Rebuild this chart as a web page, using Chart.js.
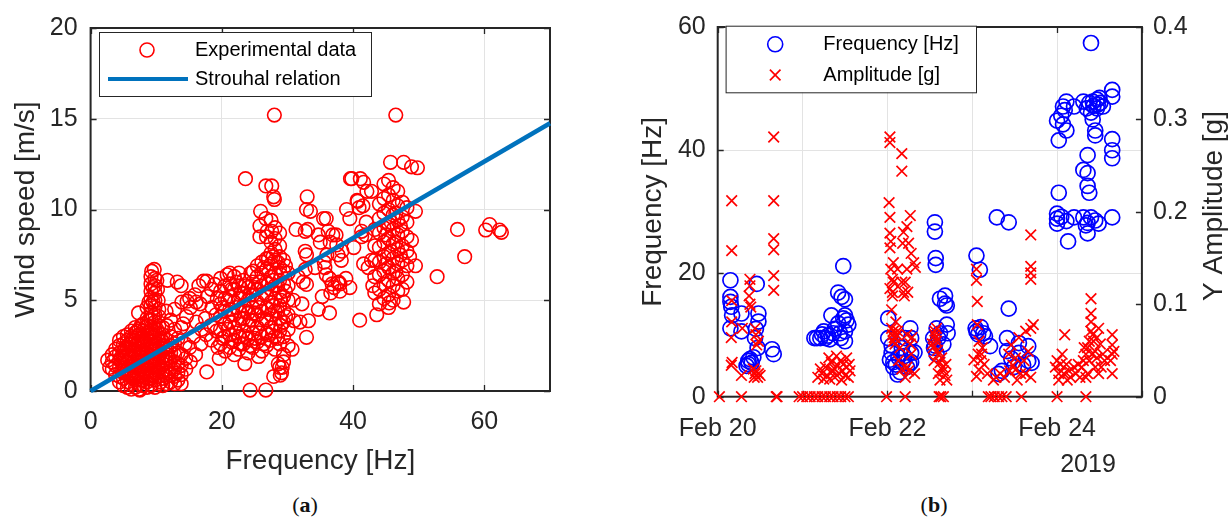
<!DOCTYPE html>
<html>
<head>
<meta charset="utf-8">
<script src="https://cdn.jsdelivr.net/npm/chart.js@4.4.1/dist/chart.umd.min.js"></script>
<style>
    body { margin: 0; background: #fff; width: 1231px; height: 520px; position: relative; overflow: hidden; }
    canvas { position: absolute; top: 0; }
    #chartA { left: 0; }
    #chartB { left: 620px; }
    .cap { position: absolute; top: 505px; transform: translate(-50%, -50%); font: 22px "Liberation Serif", "Times New Roman", serif; color: #111; }
</style>
</head>
<body>
<canvas id="chartA" width="620" height="480"></canvas>
<canvas id="chartB" width="611" height="480"></canvas>
<div class="cap" style="left:305px">(<b>a</b>)</div>
<div class="cap" style="left:934px">(<b>b</b>)</div>

<script>
/* =========================
    Data (a): wind speed vs frequency
========================= */
const freqTicksA = [0, 20, 40, 60];
const windTicks = [0, 5, 10, 15, 20];

// [frequency Hz, wind speed m/s]
const lowBand = [
    [2.6,1.7],[2.9,1.3],[3.3,1.2],[3.3,1.6],[3.3,2.0],[3.8,0.9],[3.8,1.4],[3.8,1.9],[3.8,2.3],
    [4.4,0.5],[4.4,0.8],[4.4,1.3],[4.4,1.7],[4.4,2.1],[4.4,2.5],[4.4,2.8],
    [5.0,0.3],[5.0,0.7],[5.0,1.0],[5.0,1.4],[5.0,1.8],[5.0,2.2],[5.0,2.6],[5.0,3.0],
    [5.6,0.2],[5.6,0.5],[5.6,0.9],[5.6,1.2],[5.6,1.6],[5.6,2.0],[5.6,2.4],[5.6,2.8],[5.6,3.1],
    [6.2,0.1],[6.2,0.4],[6.2,0.8],[6.2,1.1],[6.2,1.5],[6.2,1.9],[6.2,2.3],[6.2,2.6],[6.2,3.0],[6.2,3.3],
    [6.8,0.2],[6.8,0.6],[6.8,0.9],[6.8,1.3],[6.8,1.7],[6.8,2.1],[6.8,2.5],[6.8,2.8],[6.8,3.2],[6.8,3.5],
    [7.4,0.1],[7.4,0.4],[7.4,0.8],[7.4,1.2],[7.4,1.6],[7.4,1.9],[7.4,2.3],[7.4,2.7],[7.4,3.1],[7.4,3.4],[7.3,4.3],[7.5,0.05],
    [8.0,0.3],[8.0,0.6],[8.0,1.0],[8.0,1.4],[8.0,1.8],[8.0,2.2],[8.0,2.6],[8.0,3.0],[8.0,3.3],[8.0,3.7],
    [8.6,0.2],[8.6,0.5],[8.6,0.9],[8.6,1.3],[8.6,1.7],[8.6,2.1],[8.6,2.5],[8.6,2.9],[8.6,3.2],[8.6,3.6],[8.6,4.0],[8.6,4.6],
    [9.2,0.3],[9.2,0.7],[9.2,1.1],[9.2,1.5],[9.2,1.9],[9.2,2.3],[9.2,2.7],[9.2,3.1],[9.2,3.5],[9.2,3.9],[9.2,4.3],[9.2,4.7],[9.2,5.1],[9.2,5.5],[9.2,5.9],[9.2,6.3],[9.3,6.6],
    [9.8,0.2],[9.8,0.6],[9.8,1.0],[9.8,1.4],[9.8,1.8],[9.8,2.2],[9.8,2.6],[9.8,3.0],[9.8,3.4],[9.8,3.8],[9.8,4.2],[9.8,4.6],[9.8,5.0],[9.8,5.4],[9.8,5.8],[9.8,6.2],[9.7,6.7],
    [10.4,0.4],[10.4,0.8],[10.4,1.2],[10.4,1.6],[10.4,2.0],[10.4,2.4],[10.4,2.8],[10.4,3.2],[10.4,3.6],[10.4,4.1],[10.4,4.5],[10.3,5.0],[10.2,5.6],[10.1,6.1],
    [11.0,0.3],[11.0,0.7],[11.0,1.1],[11.0,1.5],[11.0,1.9],[11.0,2.3],[11.0,2.7],[11.0,3.1],[11.0,3.5],
    [11.6,0.4],[11.6,0.8],[11.6,1.2],[11.6,1.6],[11.6,2.0],[11.6,2.4],[11.6,2.8],[11.6,3.6],[11.5,4.4],[11.7,6.1],
    [12.2,0.5],[12.2,0.9],[12.2,1.3],[12.2,1.7],[12.2,2.1],[12.2,2.5],[12.2,3.0],[12.2,3.9],
    [12.8,0.4],[12.8,0.8],[12.8,1.2],[12.8,1.6],[12.8,2.0],[12.8,2.6],[12.8,3.4],[12.8,4.5],
    [13.3,0.6],[13.3,1.0],[13.3,1.5],[13.3,2.1],[13.3,2.9],[13.2,6.0],
    [13.8,0.4],[13.8,0.9],[13.8,1.4],[13.8,2.0],[13.8,3.5],[13.8,5.8],[13.9,4.9]
];

// extra circles filling the solid core of the low band
const lowCore = [
    [4.7,1.1],[4.7,1.9],[5.3,1.6],[5.3,2.4],[5.9,1.0],[5.9,1.8],[5.9,2.6],[6.5,0.7],[6.5,1.4],[6.5,2.2],
    [6.5,2.9],[7.1,1.0],[7.1,1.8],[7.1,2.6],[7.1,3.3],[7.7,0.6],[7.7,1.4],[7.7,2.1],[7.7,2.9],[7.7,3.6],
    [8.3,1.1],[8.3,1.9],[8.3,2.7],[8.3,3.5],[8.9,0.7],[8.9,1.5],[8.9,2.3],[8.9,3.1],[8.9,3.9],[8.9,4.9],
    [9.5,0.9],[9.5,1.7],[9.5,2.5],[9.5,3.3],[9.5,4.1],[9.5,4.9],[9.5,5.7],[10.1,1.0],[10.1,1.8],[10.1,2.6],
    [10.1,3.4],[10.7,0.5],[10.7,1.3],[10.7,2.1],[10.7,2.9],[11.3,0.9],[11.3,1.7],[11.3,2.5],[11.9,1.0],[11.9,1.8]
];

const transitionBand = [
    [14.5,1.2],[14.5,1.8],[14.4,2.6],[14.1,3.7],[14.6,4.1],[14.7,4.95],[15.2,1.6],[15.1,2.4],[15.7,3.0],
    [15.2,4.6],[15.1,5.1],[15.9,5.3],[16.0,2.0],[16.1,3.8],[16.1,4.9],[16.7,4.8],[16.8,2.6],[16.9,3.4],
    [16.5,5.8],[17.2,6.05],[17.7,1.05],[17.6,3.1],[17.5,4.0],[17.8,5.2],[17.7,6.05],[18.4,2.8],[18.3,3.6],
    [18.5,4.6],[18.4,5.6],[18.9,5.87],[19.2,3.3],[19.1,4.2],[19.3,5.1],[19.6,1.8],[19.4,2.4]
];

const midBand = [
    [19.8,2.6],[19.8,3.4],[19.8,4.1],[19.8,4.8],[19.8,5.5],[19.8,6.2],
    [20.5,2.2],[20.5,3.0],[20.5,3.7],[20.5,4.4],[20.5,5.1],[20.5,5.8],[20.8,6.4],
    [21.2,2.4],[21.2,3.1],[21.2,3.8],[21.2,4.5],[21.2,5.2],[21.2,5.9],[21.2,6.5],
    [21.9,2.0],[21.9,2.8],[21.9,3.5],[21.9,4.2],[21.9,4.9],[21.9,5.6],[21.9,6.3],
    [22.6,2.3],[22.6,3.0],[22.6,3.7],[22.6,4.4],[22.6,5.1],[22.6,5.8],[22.6,6.5],
    [23.3,2.6],[23.3,3.3],[23.3,4.0],[23.3,4.7],[23.3,5.4],[23.3,6.1],[23.5,1.5],[23.6,11.7],
    [24.0,2.1],[24.0,2.9],[24.0,3.6],[24.0,4.3],[24.0,5.0],[24.0,5.7],[24.4,6.5],[24.3,0.05],
    [24.7,2.4],[24.7,3.2],[24.7,3.9],[24.7,4.6],[24.7,5.3],[24.7,6.0],[24.8,6.6],
    [25.4,2.7],[25.4,3.5],[25.4,4.2],[25.4,4.9],[25.4,5.6],[25.4,6.3],[25.4,6.9],[25.6,1.9],
    [26.1,2.2],[26.1,3.0],[26.1,3.7],[26.1,4.4],[26.1,5.1],[26.1,5.8],[26.1,6.5],[26.1,7.1],[25.9,9.9],[25.8,9.1],[25.8,8.5],
    [26.8,2.5],[26.8,3.2],[26.8,3.9],[26.8,4.6],[26.8,5.3],[26.8,6.0],[26.8,6.7],[26.8,7.3],[26.8,8.5],[26.7,9.5],[26.9,8.8],[26.7,11.3],[26.7,0.05],
    [27.5,2.8],[27.5,3.5],[27.5,4.2],[27.5,4.9],[27.5,5.6],[27.5,6.3],[27.5,7.0],[27.5,7.6],[27.5,8.2],[27.6,8.8],[27.5,9.4],[27.6,11.3],
    [28.1,2.3],[28.1,3.0],[28.1,3.7],[28.1,4.4],[28.1,5.1],[28.1,5.8],[28.1,6.5],[28.1,7.2],[28.1,7.8],[28.1,8.4],[28.1,9.0],[28.0,10.55],[27.9,10.7],[28.0,15.2],[27.9,0.8],
    [28.8,1.3],[28.8,2.6],[28.8,3.3],[28.8,4.0],[28.8,4.7],[28.8,5.4],[28.8,6.1],[28.8,6.8],[28.8,7.4],[28.8,8.0],[28.8,8.7],[28.9,0.87],[28.6,1.5],
    [29.4,1.6],[29.2,1.3],[29.4,2.0],[29.4,3.0],[29.4,3.8],[29.4,4.5],[29.4,5.2],[29.4,5.9],[29.4,6.6],[29.4,7.2],[29.1,1.0],
    [30.1,2.5],[30.1,3.4],[30.1,4.2],[30.1,5.0],[30.1,5.8],[30.1,6.5],[30.7,2.3],[31.0,3.87]
];

// extra circles filling the solid core of the mid band
const midCore = [
    [20.1,2.9],[20.1,4.6],[20.9,3.4],[20.9,5.0],[21.5,2.7],[21.5,4.2],[21.5,5.6],[22.2,3.2],[22.2,4.6],[22.2,6.0],
    [22.9,2.6],[22.9,4.0],[22.9,5.4],[23.6,3.0],[23.6,4.4],[23.6,5.8],[24.3,2.5],[24.3,3.9],[24.3,5.3],[25.0,2.9],
    [25.0,4.3],[25.0,5.7],[25.7,3.2],[25.7,4.6],[25.7,6.0],[26.4,2.6],[26.4,4.0],[26.4,5.4],[26.4,6.8],[27.1,3.1],
    [27.1,4.5],[27.1,5.9],[27.1,7.3],[27.8,3.3],[27.8,4.7],[27.8,6.1],[27.8,7.4],[28.5,2.9],[28.5,4.4],[28.5,5.8],
    [28.5,7.1],[29.0,3.6],[29.0,5.0],[29.0,6.4],[29.7,4.1],[29.7,5.5],[29.7,6.9]
];

const sparseBand = [
    [31.3,8.9],[33.1,8.9],[34.7,8.6],[33.0,10.7],[32.9,10.0],[33.5,9.9],[35.9,9.5],[37.4,8.6],[36.5,8.2],
    [32.9,5.87],[32.9,7.5],[35.6,7.1],[37.7,7.5],[37.7,5.96],[37.1,5.7],[38.9,6.2],[39.5,5.7],[35.9,6.4],
    [32.2,4.8],[34.7,4.5],[36.4,4.3],[33.2,3.87],[32.9,2.96],[36.9,8.6],[38.2,7.2],[36.0,7.5],[34.2,6.8],
    [37.8,6.0],[36.6,5.4],[35.3,5.2],[30.9,5.0],[31.6,6.3],[38.3,7.7],[39.0,10.0],[39.5,9.5],[32.7,8.8],
    [35.0,8.2],[37.5,8.05],[32.7,7.7],[32.7,6.7],[32.4,6.0],[35.7,6.8],[36.4,6.2],[36.8,5.9],[38.0,5.9],
    [38.0,5.5],[36.2,8.8],[35.5,9.5],[31.9,3.8],[40.1,7.9]
];

const highBand = [
    [39.6,11.7],[39.8,11.7],[40.6,10.5],[40.7,10.45],[40.9,10.1],[41.5,10.2],[41.1,11.7],[41.6,11.5],[42.1,11.0],
    [42.8,11.0],[41.3,8.8],[41.9,8.6],[41.3,8.5],[41.6,7.0],[42.3,6.8],[42.8,7.2],[42.0,9.3],[41.0,3.9],[43.6,4.2],[43.0,5.8],
    [43.3,5.4],[43.3,6.3],[43.3,7.2],[43.3,8.0],[43.3,8.9],
    [44.0,4.8],[44.0,5.6],[44.0,6.4],[44.0,7.1],[44.0,7.9],[44.0,8.7],[44.0,9.5],[44.0,10.3],
    [44.7,5.1],[44.7,5.9],[44.7,6.6],[44.7,7.4],[44.7,8.2],[44.7,9.0],[44.7,9.8],[44.7,10.6],[44.7,11.4],
    [45.4,4.6],[45.4,5.3],[45.4,6.1],[45.4,6.8],[45.4,7.6],[45.4,8.4],[45.4,9.2],[45.4,10.0],[45.4,10.8],[45.4,11.6],[45.5,4.85],
    [46.1,5.0],[46.1,5.8],[46.1,6.5],[46.1,7.3],[46.1,8.1],[46.1,8.9],[46.1,9.7],[46.1,10.5],[46.1,11.2],[45.7,12.6],
    [46.8,5.5],[46.8,6.2],[46.8,7.0],[46.8,7.8],[46.8,8.6],[46.8,9.4],[46.8,10.2],[46.8,11.0],[46.5,15.2],
    [47.5,5.6],[47.5,6.4],[47.5,7.2],[47.5,8.0],[47.5,8.8],[47.5,9.6],[47.5,10.4],[47.7,12.6],[47.7,4.9],
    [48.2,6.0],[48.2,6.9],[48.2,7.7],[48.2,8.5],[48.2,9.3],[48.2,10.1],[48.6,7.4],[48.9,8.3],[48.9,12.35],[49.8,12.3],[49.5,9.9],[49.5,6.9],
    [45.0,7.0],[45.0,8.6],[45.8,7.7],[45.8,9.3],[46.5,6.6],[46.5,8.2],[46.5,9.8],[47.2,7.5],[47.2,9.1]
];

const farPts = [[52.8,6.3],[55.9,8.9],[57.0,7.4],[60.2,8.87],[60.8,9.17],[62.3,8.87],[62.6,8.74]];

// Strouhal relation, end points
const strouhalFreq = [0, 70];
const strouhalSpeed = [0, 14.75];

/* =========================
    Data (b): frequency / amplitude over time
    x = days after Feb 20 2019, 00:00
========================= */
const dayTicks = [0, 1, 2, 3, 4, 5];
const dayLabels = ['Feb 20', '', 'Feb 22', '', 'Feb 24', ''];
const hzTicks = [0, 20, 40, 60];
const gTicks = [0, 0.1, 0.2, 0.3, 0.4];

// [day, Hz]
const freqFeb20 = [
    [0.15,18.9],[0.15,16.2],[0.15,15.4],[0.16,14.6],[0.17,13.2],[0.15,11.1],[0.28,13.5],[0.28,10.6],[0.46,18.3],
    [0.48,13.5],[0.48,12.2],[0.44,9.5],[0.47,7.9],[0.42,6.4],[0.38,6.1],[0.36,5.8],[0.36,5.3],[0.34,5.0],
    [0.64,7.7],[0.66,6.9],[0.45,11.0],[0.40,5.5]
];
const freqFeb21 = [
    [1.14,9.5],[1.17,9.5],[1.21,9.5],[1.23,10.1],[1.27,9.5],[1.30,9.9],[1.34,13.2],[1.36,10.3],[1.38,11.0],
    [1.42,16.9],[1.46,16.2],[1.50,15.8],[1.48,21.2],[1.42,11.9],[1.48,12.7],[1.50,13.2],[1.52,12.4],[1.54,11.7],
    [1.50,10.6],[1.45,9.5],[1.50,9.0],[1.44,10.3],[1.32,9.3],[1.25,10.6]
];
const freqFeb22 = [
    [2.01,12.7],[2.01,9.5],[2.05,7.1],[2.07,5.6],[2.07,4.8],[2.15,4.0],[2.23,4.8],[2.27,11.1],[2.28,9.5],
    [2.28,7.1],[2.28,5.6],[2.21,9.5],[2.17,7.9],[2.13,6.4],[2.03,6.0],[2.10,5.2],[2.12,3.6],[2.18,5.5],
    [2.32,7.2],[2.26,5.3],[2.20,6.6],[2.05,8.3],
    [2.56,28.3],[2.56,26.8],[2.57,22.5],[2.57,21.4],[2.62,15.9],[2.68,16.4],[2.68,15.1],[2.70,11.7],[2.58,11.1],
    [2.54,9.5],[2.62,10.3],[2.66,8.5],[2.58,6.9],[2.55,7.9],[2.70,14.8],[2.71,10.3],[2.60,9.5],[2.56,8.3]
];
const freqFeb23 = [
    [3.05,22.9],[3.09,20.6],[3.04,11.1],[3.07,10.1],[3.13,10.3],[3.15,9.8],[3.21,8.2],[3.29,29.1],[3.43,28.3],
    [3.43,14.3],[3.41,9.5],[3.41,7.4],[3.55,8.7],[3.55,7.1],[3.66,8.2],[3.66,5.8],[3.35,4.2],[3.31,3.7],
    [3.49,4.8],[3.60,5.2],[3.05,10.6],[3.10,11.3],[3.46,6.2],[3.70,5.5]
];
const freqFeb24 = [
    [4.00,28.9],[4.00,29.7],[4.00,28.1],[4.02,33.1],[4.02,41.6],[4.00,44.8],[4.05,45.6],[4.07,47.1],[4.11,47.9],
    [4.11,43.2],[4.07,44.2],[4.13,25.2],[4.09,46.5],[4.20,29.1],[4.20,47.1],[4.31,29.1],[4.34,27.8],[4.36,26.5],
    [4.36,39.2],[4.31,36.8],[4.36,36.3],[4.36,34.2],[4.38,33.1],[4.40,57.4],[4.31,47.9],[4.38,47.7],[4.42,47.9],
    [4.47,48.2],[4.51,47.7],[4.54,47.1],[4.40,46.1],[4.42,45.0],[4.45,43.2],[4.45,42.4],[4.40,29.1],[4.45,28.6],
    [4.49,28.1],[4.65,49.8],[4.65,48.7],[4.65,41.8],[4.65,40.0],[4.65,38.7],[4.65,29.1],[4.05,29.2],[4.11,28.5],
    [4.36,28.2],[4.47,46.8],[4.50,48.5],[4.43,47.2],[4.48,47.4],[4.35,46.8]
];

// [day, g]
const ampFeb20 = [
    [0.02,0],[0.28,0],[0.70,0],[0.69,0],[0.165,0.212],[0.165,0.158],[0.165,0.104],[0.165,0.081],[0.16,0.064],
    [0.16,0.034],[0.17,0.037],[0.28,0.023],[0.29,0.074],[0.38,0.127],[0.38,0.120],[0.37,0.109],[0.38,0.100],
    [0.39,0.097],[0.44,0.074],[0.48,0.060],[0.45,0.067],[0.46,0.056],[0.44,0.025],[0.47,0.021],[0.45,0.028],
    [0.48,0.025],[0.43,0.021],[0.50,0.023],[0.42,0.030],[0.66,0.281],[0.66,0.212],[0.66,0.171],[0.66,0.159],
    [0.66,0.131],[0.66,0.115]
];
const ampFeb21 = [
    [0.96,0],[1.00,0],[1.05,0],[1.09,0],[1.14,0],[1.18,0],[1.23,0],[1.27,0],[1.32,0],[1.36,0],[1.41,0],[1.45,0],
    [1.50,0],[1.54,0],[1.18,0.021],[1.23,0.025],[1.27,0.032],[1.29,0.023],[1.34,0.037],[1.36,0.028],[1.38,0.021],
    [1.41,0.034],[1.43,0.025],[1.45,0.039],[1.47,0.028],[1.50,0.023],[1.52,0.032],[1.54,0.021],[1.56,0.028],
    [1.32,0.019],[1.25,0.019],[1.31,0.042],[1.40,0.044],[1.48,0.035],[1.52,0.042],[1.38,0.030],[1.46,0.018],
    [1.55,0.035],[1.21,0.030],[1.34,0.028]
];
const ampFeb22 = [
    [1.99,0],[2.21,0],[2.61,0],[2.66,0],[2.63,0],[2.03,0.281],[2.03,0.275],[2.02,0.210],[2.03,0.194],[2.03,0.177],
    [2.04,0.168],[2.03,0.161],[2.07,0.145],[2.04,0.138],[2.06,0.127],[2.03,0.117],[2.06,0.109],[2.05,0.094],
    [2.07,0.124],[2.06,0.113],[2.17,0.263],[2.17,0.244],[2.19,0.178],[2.18,0.166],[2.12,0.138],[2.17,0.124],
    [2.19,0.113],[2.23,0.184],[2.27,0.196],[2.25,0.166],[2.28,0.155],[2.33,0.140],[2.31,0.145],[2.23,0.138],
    [2.21,0.124],[2.24,0.113],[2.20,0.109],[2.10,0.081],[2.07,0.071],[2.08,0.064],[2.09,0.057],[2.06,0.067],
    [2.05,0.074],[2.07,0.060],[2.11,0.067],[2.12,0.071],[2.09,0.064],[2.23,0.067],[2.27,0.057],[2.28,0.046],
    [2.23,0.032],[2.21,0.021],[2.13,0.039],[2.17,0.030],[2.25,0.028],[2.32,0.025],[2.29,0.064],[2.15,0.053],
    [2.56,0.067],[2.58,0.060],[2.54,0.053],[2.60,0.046],[2.62,0.037],[2.66,0.028],[2.60,0.025],[2.70,0.018],
    [2.57,0.064],[2.53,0.057],[2.64,0.042],[2.56,0.071],[2.59,0.050],[2.65,0.032],[2.68,0.023],[2.62,0.018],
    [2.55,0.039],[2.69,0.035],[2.58,0.074]
];
const ampFeb23 = [
    [3.19,0],[3.26,0],[3.31,0],[3.35,0],[3.40,0],[3.58,0],[3.22,0],[3.05,0.138],[3.05,0.126],[3.06,0.103],
    [3.06,0.078],[3.07,0.046],[3.10,0.039],[3.08,0.029],[3.05,0.022],[3.12,0.053],[3.14,0.035],[3.25,0.018],
    [3.18,0.025],[3.28,0.021],[3.33,0.025],[3.38,0.021],[3.43,0.046],[3.51,0.042],[3.51,0.029],[3.57,0.025],
    [3.55,0.064],[3.63,0.071],[3.69,0.074],[3.66,0.049],[3.61,0.039],[3.69,0.175],[3.69,0.141],[3.69,0.134],
    [3.69,0.127],[3.44,0.028],[3.48,0.034],[3.53,0.018],[3.63,0.025],[3.69,0.021],[3.46,0.056],[3.72,0.078],
    [3.08,0.060],[3.02,0.040],[3.11,0.046]
];
const ampFeb24 = [
    [4.00,0],[4.34,0],[4.00,0.039],[3.98,0.032],[4.04,0.035],[4.02,0.025],[4.09,0.067],[4.11,0.035],[4.14,0.028],
    [4.16,0.021],[4.22,0.025],[4.27,0.021],[4.29,0.032],[4.31,0.039],[4.34,0.046],[4.36,0.053],[4.38,0.060],
    [4.40,0.071],[4.40,0.081],[4.40,0.090],[4.40,0.106],[4.42,0.067],[4.45,0.049],[4.47,0.064],[4.49,0.074],
    [4.51,0.057],[4.47,0.042],[4.45,0.032],[4.49,0.025],[4.54,0.046],[4.56,0.039],[4.36,0.025],[4.34,0.021],
    [4.65,0.067],[4.65,0.056],[4.65,0.046],[4.65,0.025],[4.67,0.049],[4.63,0.039],[4.06,0.046],[4.02,0.018],
    [4.08,0.025],[4.38,0.039],[4.43,0.060],[4.52,0.032],[4.32,0.053],[4.41,0.046],[4.20,0.032],[4.12,0.018],[4.25,0.035]
];

/* =========================
    Helpers & plugins
========================= */
const INK = '#262626';
const GRID = '#e3e3e3';
const SANS = '"Liberation Sans", Arial, Helvetica, sans-serif';

Chart.defaults.font.family = SANS;
Chart.defaults.color = INK;

const toXY = pts => pts.map(([x, y]) => ({ x, y }));

// MATLAB-like box with inward ticks on all four sides
const matlabFrame = {
    id: 'matlabFrame',
    beforeDatasetsDraw(chart, args, opts) {
        const { ctx, chartArea: a, scales } = chart;
        const len = 6;
        ctx.save();
        ctx.strokeStyle = INK;
        ctx.lineWidth = 1.3;
        ctx.beginPath();
        opts.xTicks.forEach(v => {
            const px = Math.round(scales.x.getPixelForValue(v)) + 0.5;
            ctx.moveTo(px, a.bottom); ctx.lineTo(px, a.bottom - len);
            ctx.moveTo(px, a.top); ctx.lineTo(px, a.top + len);
        });
        opts.leftTicks.forEach(v => {
            const py = Math.round(scales.y.getPixelForValue(v)) + 0.5;
            ctx.moveTo(a.left, py); ctx.lineTo(a.left + len, py);
        });
        const rs = scales[opts.rightScale];
        opts.rightTicks.forEach(v => {
            const py = Math.round(rs.getPixelForValue(v)) + 0.5;
            ctx.moveTo(a.right, py); ctx.lineTo(a.right - len, py);
        });
        ctx.stroke();
        ctx.lineWidth = 2;
        ctx.strokeRect(a.left, a.top, a.right - a.left, a.bottom - a.top);
        ctx.restore();
    }
};

// boxed legend + loose texts
const boxLegend = {
    id: 'boxLegend',
    afterDatasetsDraw(chart, args, opts) {
        const ctx = chart.ctx;
        ctx.save();
        if (opts.box) {
            const b = opts.box;
            ctx.fillStyle = '#fff';
            ctx.fillRect(b.x, b.y, b.w, b.h);
            ctx.strokeStyle = INK;
            ctx.lineWidth = 1;
            ctx.strokeRect(b.x + 0.5, b.y + 0.5, b.w, b.h);
            ctx.font = '20px ' + SANS;
            ctx.textBaseline = 'middle';
            b.items.forEach(it => {
                ctx.strokeStyle = it.color;
                if (it.kind === 'circle') {
                    ctx.lineWidth = 1.6;
                    ctx.beginPath();
                    ctx.arc(b.markX, it.y, it.r, 0, Math.PI * 2);
                    ctx.stroke();
                } else if (it.kind === 'cross') {
                    const h = it.r;
                    ctx.lineWidth = 1.7;
                    ctx.beginPath();
                    ctx.moveTo(b.markX - h, it.y - h); ctx.lineTo(b.markX + h, it.y + h);
                    ctx.moveTo(b.markX - h, it.y + h); ctx.lineTo(b.markX + h, it.y - h);
                    ctx.stroke();
                } else {
                    ctx.lineWidth = 4;
                    ctx.beginPath();
                    ctx.moveTo(it.x0, it.y); ctx.lineTo(it.x1, it.y);
                    ctx.stroke();
                }
                ctx.fillStyle = '#000';
                ctx.textAlign = 'left';
                ctx.fillText(it.text, b.textX, it.y);
            });
        }
        (opts.texts || []).forEach(t => {
            ctx.save();
            ctx.font = t.font;
            ctx.fillStyle = INK;
            ctx.textAlign = 'center';
            ctx.textBaseline = 'middle';
            ctx.translate(t.x, t.y);
            if (t.rot) ctx.rotate(t.rot);
            ctx.fillText(t.text, 0, 0);
            ctx.restore();
        });
        ctx.restore();
    }
};

const tickFont = { size: 25 };
const titleFont = { size: 28 };

/* =========================
    Chart (a)
========================= */
new Chart(document.getElementById('chartA'), {
    type: 'scatter',
    data: {
        datasets: [
            {
                label: 'Strouhal relation',
                data: strouhalFreq.map((f, i) => ({ x: f, y: strouhalSpeed[i] })),
                showLine: true,
                borderColor: '#0072BD',
                borderWidth: 4.5,
                pointRadius: 0,
                clip: false,
                order: 0
            },
            {
                label: 'Experimental data',
                data: toXY([...lowBand, ...lowCore, ...transitionBand, ...midBand, ...midCore, ...sparseBand, ...highBand, ...farPts]),
                pointStyle: 'circle',
                pointRadius: 6.8,
                pointBorderWidth: 1.6,
                borderColor: '#ff0000',
                backgroundColor: 'rgba(0,0,0,0)',
                clip: false,
                order: 1
            }
        ]
    },
    options: {
        responsive: false,
        animation: false,
        devicePixelRatio: 1,
        events: [],
        layout: { padding: { top: 24, right: 70, left: 0, bottom: 0 } },
        plugins: {
            legend: { display: false },
            tooltip: { enabled: false },
            matlabFrame: { xTicks: freqTicksA, leftTicks: windTicks, rightTicks: windTicks, rightScale: 'y' },
            boxLegend: {
                box: {
                    x: 99, y: 32, w: 272, h: 64, markX: 147, textX: 195,
                    items: [
                        { kind: 'circle', color: '#ff0000', r: 7, y: 50, text: 'Experimental data' },
                        { kind: 'line', color: '#0072BD', x0: 108, x1: 188, y: 79, text: 'Strouhal relation' }
                    ]
                }
            }
        },
        scales: {
            x: {
                type: 'linear', min: 0, max: 70,
                afterBuildTicks: s => { s.ticks = freqTicksA.map(v => ({ value: v })); },
                afterFit: s => { s.height = 89; },
                ticks: { font: tickFont, padding: 16, maxRotation: 0, autoSkip: false, color: INK },
                grid: { color: GRID, drawTicks: false },
                border: { display: false },
                title: { display: true, text: 'Frequency [Hz]', font: titleFont, color: INK, padding: { top: 0, bottom: 2 } }
            },
            y: {
                type: 'linear', min: 0, max: 20,
                afterBuildTicks: s => { s.ticks = windTicks.map(v => ({ value: v })); },
                afterFit: s => { s.width = 90.6; },
                ticks: { font: tickFont, padding: 13, color: INK },
                grid: { color: GRID, drawTicks: false },
                border: { display: false },
                title: { display: true, text: 'Wind speed [m/s]', font: titleFont, color: INK, padding: { top: 9, bottom: 0 } }
            }
        }
    },
    plugins: [matlabFrame, boxLegend]
});

/* =========================
    Chart (b)
========================= */
new Chart(document.getElementById('chartB'), {
    type: 'scatter',
    data: {
        datasets: [
            {
                label: 'Amplitude [g]',
                yAxisID: 'y2',
                data: toXY([...ampFeb20, ...ampFeb21, ...ampFeb22, ...ampFeb23, ...ampFeb24]),
                pointStyle: 'crossRot',
                pointRadius: 7.5,
                pointBorderWidth: 1.7,
                borderColor: '#ff0000',
                backgroundColor: 'rgba(0,0,0,0)',
                clip: false,
                order: 0
            },
            {
                label: 'Frequency [Hz]',
                yAxisID: 'y',
                data: toXY([...freqFeb20, ...freqFeb21, ...freqFeb22, ...freqFeb23, ...freqFeb24]),
                pointStyle: 'circle',
                pointRadius: 7.5,
                pointBorderWidth: 1.7,
                borderColor: '#0000ff',
                backgroundColor: 'rgba(0,0,0,0)',
                clip: false,
                order: 1
            }
        ]
    },
    options: {
        responsive: false,
        animation: false,
        devicePixelRatio: 1,
        events: [],
        layout: { padding: { top: 19, right: 0, left: 0, bottom: 0 } },
        plugins: {
            legend: { display: false },
            tooltip: { enabled: false },
            matlabFrame: { xTicks: dayTicks, leftTicks: hzTicks, rightTicks: gTicks, rightScale: 'y2' },
            boxLegend: {
                box: {
                    x: 105.6, y: 25.7, w: 250.4, h: 66.6, markX: 155.2, textX: 203.3,
                    items: [
                        { kind: 'circle', color: '#0000ff', r: 7.5, y: 44.3, text: 'Frequency [Hz]' },
                        { kind: 'cross', color: '#ff0000', r: 5.3, y: 75, text: 'Amplitude [g]' }
                    ]
                },
                texts: [
                    { text: 'Y Amplitude [g]', x: 594, y: 206, rot: -Math.PI / 2, font: '28px ' + SANS },
                    { text: '2019', x: 468, y: 465, font: '25px ' + SANS }
                ]
            }
        },
        scales: {
            x: {
                type: 'linear', min: 0, max: 5,
                afterBuildTicks: s => { s.ticks = dayTicks.map(v => ({ value: v })); },
                afterFit: s => { s.height = 83.3; },
                ticks: {
                    font: tickFont, padding: 17, maxRotation: 0, autoSkip: false, color: INK,
                    callback: v => dayLabels[dayTicks.indexOf(v)] ?? ''
                },
                grid: { color: GRID, drawTicks: false },
                border: { display: false }
            },
            y: {
                type: 'linear', position: 'left', min: 0, max: 60,
                afterBuildTicks: s => { s.ticks = hzTicks.map(v => ({ value: v })); },
                afterFit: s => { s.width = 97.7; },
                ticks: { font: tickFont, padding: 12, color: INK },
                grid: { color: GRID, drawTicks: false },
                border: { display: false },
                title: { display: true, text: 'Frequency [Hz]', font: titleFont, color: INK, padding: { top: 16, bottom: 0 } }
            },
            y2: {
                type: 'linear', position: 'right', min: 0, max: 0.4,
                afterBuildTicks: s => { s.ticks = gTicks.map(v => ({ value: v })); },
                afterFit: s => { s.width = 89.1; },
                ticks: { font: tickFont, padding: 11, color: INK, callback: v => String(Math.round(v * 10) / 10) },
                grid: { drawOnChartArea: false, drawTicks: false },
                border: { display: false }
            }
        }
    },
    plugins: [matlabFrame, boxLegend]
});
</script>
</body>
</html>
